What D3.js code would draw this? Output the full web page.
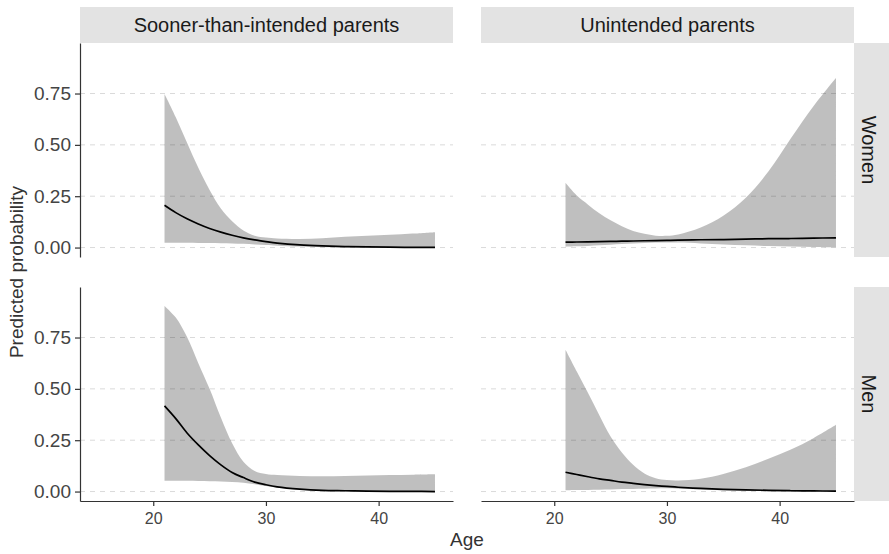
<!DOCTYPE html>
<html>
<head>
<meta charset="utf-8">
<script src="https://cdn.jsdelivr.net/npm/d3@7"></script>
<style>
  body { margin: 0; background: #fff; }
  text { font-family: "Liberation Sans", Arial, sans-serif; }
</style>
</head>
<body>
<div id="chart"></div>
<script>
const columns = ["Sooner-than-intended parents", "Unintended parents"]
const rows = ["Women", "Men"]
const ages = [21, 22, 23, 24, 25, 26, 27, 28, 29, 30, 31, 33, 35, 37, 39, 41, 43, 45]
const yTicks = [0, 0.25, 0.5, 0.75]
const xTicks = [20, 30, 40]

// sooner-than-intended, women
const soonerWomenFit = [0.206, 0.17, 0.14, 0.115, 0.093, 0.075, 0.06, 0.047, 0.037, 0.029, 0.022, 0.013, 0.008, 0.005, 0.003, 0.002, 0.001, 0.001]
const soonerWomenLower = [0.023, 0.023, 0.023, 0.022, 0.022, 0.021, 0.02, 0.018, 0.015, 0.012, 0.009, 0.005, 0.002, 0.001, 0, 0, 0, 0]
const soonerWomenUpper = [0.748, 0.635, 0.51, 0.388, 0.28, 0.19, 0.128, 0.083, 0.058, 0.049, 0.044, 0.042, 0.045, 0.052, 0.057, 0.062, 0.068, 0.075]

// unintended, women
const unintWomenFit = [0.026, 0.027, 0.028, 0.029, 0.03, 0.031, 0.032, 0.033, 0.034, 0.035, 0.036, 0.038, 0.039, 0.041, 0.043, 0.044, 0.046, 0.047]
const unintWomenLower = [0.004, 0.006, 0.008, 0.011, 0.014, 0.017, 0.02, 0.022, 0.024, 0.025, 0.024, 0.02, 0.015, 0.011, 0.007, 0.005, 0.003, 0.002]
const unintWomenUpper = [0.315, 0.253, 0.209, 0.167, 0.133, 0.104, 0.081, 0.067, 0.058, 0.057, 0.064, 0.098, 0.155, 0.243, 0.37, 0.532, 0.688, 0.826]

// sooner-than-intended, men
const soonerMenFit = [0.417, 0.355, 0.285, 0.227, 0.175, 0.13, 0.093, 0.068, 0.046, 0.033, 0.023, 0.012, 0.006, 0.004, 0.002, 0.001, 0.001, 0]
const soonerMenLower = [0.052, 0.052, 0.052, 0.051, 0.05, 0.049, 0.047, 0.043, 0.036, 0.027, 0.019, 0.009, 0.004, 0.002, 0.001, 0, 0, 0]
const soonerMenUpper = [0.904, 0.847, 0.752, 0.625, 0.5, 0.36, 0.235, 0.145, 0.1, 0.085, 0.08, 0.076, 0.074, 0.076, 0.078, 0.08, 0.082, 0.084]

// unintended, men
const unintMenFit = [0.094, 0.083, 0.072, 0.062, 0.054, 0.046, 0.04, 0.034, 0.029, 0.025, 0.021, 0.015, 0.011, 0.008, 0.006, 0.004, 0.003, 0.002]
const unintMenLower = [0.006, 0.007, 0.008, 0.009, 0.01, 0.012, 0.013, 0.014, 0.015, 0.016, 0.014, 0.01, 0.006, 0.004, 0.002, 0.001, 0.001, 0]
const unintMenUpper = [0.69, 0.585, 0.48, 0.372, 0.268, 0.19, 0.13, 0.088, 0.065, 0.056, 0.054, 0.062, 0.085, 0.118, 0.16, 0.205, 0.26, 0.325]

const panels = [
    { col: 0, row: 0, fit: soonerWomenFit, lower: soonerWomenLower, upper: soonerWomenUpper },
    { col: 1, row: 0, fit: unintWomenFit, lower: unintWomenLower, upper: unintWomenUpper },
    { col: 0, row: 1, fit: soonerMenFit, lower: soonerMenLower, upper: soonerMenUpper },
    { col: 1, row: 1, fit: unintMenFit, lower: unintMenLower, upper: unintMenUpper }
]

const width = 889
const height = 554
const panelLeft = [80, 481]
const panelTop = [43, 287]
const panelW = 373
const panelH = 214
const stripSize = 36

const svg = d3.select("#chart").append("svg")
    .attr("width", width)
    .attr("height", height)

const xScales = panelLeft.map(function (x0) {
    return d3.scaleLinear().domain([13.5, 46.6]).range([x0, x0 + panelW])
})
const yScales = panelTop.map(function (y0) {
    return d3.scaleLinear().domain([-0.046, 0.996]).range([y0 + panelH, y0])
})

// grid lines
panels.forEach(function (p) {
    const x = xScales[p.col], y = yScales[p.row]
    svg.append("g")
        .selectAll("line")
        .data(yTicks)
        .enter().append("line")
        .attr("x1", x.range()[0])
        .attr("x2", x.range()[1])
        .attr("y1", d => y(d))
        .attr("y2", d => y(d))
        .attr("stroke", "#dadada")
        .attr("stroke-width", 1)
        .attr("stroke-dasharray", "5,5")
})

// ribbons and fitted lines
panels.forEach(function (p) {
    const x = xScales[p.col], y = yScales[p.row]
    const pts = ages.map(function (a, i) {
        return { age: a, fit: p.fit[i], lower: p.lower[i], upper: p.upper[i] }
    })

    const area = d3.area()
        .x(d => x(d.age))
        .y0(d => y(d.lower))
        .y1(d => y(d.upper))
        .curve(d3.curveCatmullRom.alpha(0.5))

    const line = d3.line()
        .x(d => x(d.age))
        .y(d => y(d.fit))
        .curve(d3.curveCatmullRom.alpha(0.5))

    svg.append("path")
        .datum(pts)
        .attr("d", area)
        .attr("fill", "#000")
        .attr("fill-opacity", 0.25)

    svg.append("path")
        .datum(pts)
        .attr("d", line)
        .attr("fill", "none")
        .attr("stroke", "#000")
        .attr("stroke-width", 1.7)
})

function styleAxis(g, fontSize) {
    g.select(".domain").attr("stroke", "#333").attr("stroke-width", 1.2)
    g.selectAll(".tick line").attr("stroke", "#333").attr("stroke-width", 1.2)
    g.selectAll(".tick text")
        .attr("fill", "#444")
        .style("font-size", fontSize + "px")
        .style("font-family", "'Liberation Sans', Arial, sans-serif")
}

// y axes on the left column
yScales.forEach(function (y) {
    const g = svg.append("g")
        .attr("transform", "translate(" + panelLeft[0] + ",0)")
        .call(d3.axisLeft(y).tickValues(yTicks).tickFormat(d3.format(".2f"))
            .tickSize(5).tickSizeOuter(0).tickPadding(4))
    styleAxis(g, 19)
})

// x axes on the bottom row
xScales.forEach(function (x) {
    const g = svg.append("g")
        .attr("transform", "translate(0," + (panelTop[1] + panelH) + ")")
        .call(d3.axisBottom(x).tickValues(xTicks)
            .tickSize(5).tickSizeOuter(0).tickPadding(7))
    styleAxis(g, 16)
})

// top strips
columns.forEach(function (c, i) {
    svg.append("rect")
        .attr("x", panelLeft[i])
        .attr("y", panelTop[0] - stripSize)
        .attr("width", panelW)
        .attr("height", stripSize)
        .attr("fill", "#e3e3e3")
    svg.append("text")
        .attr("x", panelLeft[i] + panelW / 2)
        .attr("y", panelTop[0] - stripSize / 2)
        .attr("text-anchor", "middle")
        .attr("dominant-baseline", "central")
        .attr("fill", "#1a1a1a")
        .style("font-size", "20px")
        .text(c)
})

// right strips
rows.forEach(function (r, i) {
    const sx = panelLeft[1] + panelW
    svg.append("rect")
        .attr("x", sx)
        .attr("y", panelTop[i])
        .attr("width", stripSize)
        .attr("height", panelH)
        .attr("fill", "#e3e3e3")
    svg.append("text")
        .attr("transform", "translate(" + (sx + 15) + "," + (panelTop[i] + panelH / 2) + ") rotate(90)")
        .attr("text-anchor", "middle")
        .attr("dominant-baseline", "central")
        .attr("fill", "#1a1a1a")
        .style("font-size", "20px")
        .text(r)
})

// axis titles
svg.append("text")
    .attr("x", (panelLeft[0] + panelLeft[1] + panelW) / 2)
    .attr("y", 546)
    .attr("text-anchor", "middle")
    .attr("fill", "#333")
    .style("font-size", "19px")
    .text("Age")

svg.append("text")
    .attr("transform", "translate(23," + (panelTop[0] + panelTop[1] + panelH) / 2 + ") rotate(-90)")
    .attr("text-anchor", "middle")
    .attr("fill", "#333")
    .style("font-size", "19px")
    .text("Predicted probability")
</script>
</body>
</html>
